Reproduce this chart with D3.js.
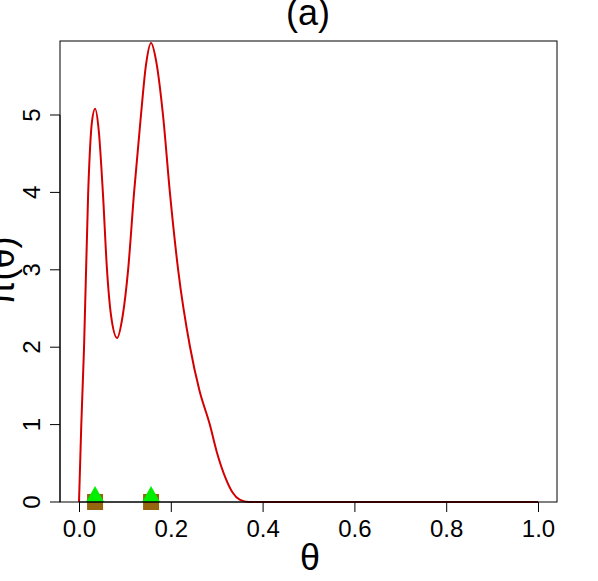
<!DOCTYPE html><html><head><script src="https://d3js.org/d3.v7.min.js"></script>
<style>body{margin:0;background:#fff}text{font-family:"Liberation Sans",Arial,sans-serif}</style></head><body>
<script>
const thetas=[0,0.005,0.011,0.02,0.028,0.035,0.043,0.052,0.061,0.07,0.083,0.095,0.107,0.12,0.135,0.146,0.157,0.168,0.183,0.198,0.216,0.242,0.262,0.285,0.30,0.32,0.335,0.35,0.37,0.6,0.8,1.0];
const density=[0,1,2,4,4.9,5.08,4.8,4,3,2.4,2.12,2.4,3,4,5,5.65,5.93,5.7,5,4,3,2,1.45,1,0.65,0.3,0.12,0.03,0,0,0,0];
const modes=[0.035,0.157];
const xTicks=[0,0.2,0.4,0.6,0.8,1.0];
const yTicks=[0,1,2,3,4,5];
const W=598,H=581,L=60,R=557,T=41,B=502;
const svg=d3.select("body").append("svg").attr("width",W).attr("height",H);
const x=d3.scaleLinear().domain([-0.0414,1.0414]).range([L,R]);
const y=d3.scaleLinear().domain([0,5.956]).range([B,T]);
const line=d3.line().x((d,i)=>x(thetas[i])).y(d=>y(d)).curve(d3.curveMonotoneX);
svg.append("path").datum(density).attr("d",line).attr("fill","none").attr("stroke","#d40000").attr("stroke-width",2);
svg.selectAll("rect.m").data(modes).enter().append("rect").attr("x",d=>x(d)-8).attr("y",B-8).attr("width",16).attr("height",16).attr("fill","#96660f");
svg.selectAll("path.t").data(modes).enter().append("path").attr("d",d=>`M${x(d)-9},${B}L${x(d)+9},${B}L${x(d)},${B-16}Z`).attr("fill","#00ee00");
svg.append("rect").attr("x",L).attr("y",T).attr("width",R-L).attr("height",B-T).attr("fill","none").attr("stroke","#000");
const xa=svg.append("g").attr("transform",`translate(0,${B})`).call(d3.axisBottom(x).tickValues(xTicks).tickFormat(d3.format(".1f")).tickSize(10).tickSizeOuter(0));
xa.select(".domain").attr("d",`M${x(0)},0H${x(1)}`);
xa.selectAll("text").attr("font-size",24).attr("dy","0.9em").attr("fill","#000");
const ya=svg.append("g").attr("transform",`translate(${L},0)`).call(d3.axisLeft(y).tickValues(yTicks).tickFormat(d3.format("d")).tickSize(10).tickSizeOuter(0));
ya.select(".domain").attr("d",`M0,${y(0)}V${y(5)}`);
ya.selectAll(".tick").attr("transform",null);
ya.selectAll(".tick line").attr("transform",d=>`translate(0,${y(d)})`);
ya.selectAll(".tick text").attr("font-size",24).attr("fill","#000").attr("x",-20).attr("y",d=>y(d)).attr("dy",0).attr("text-anchor","middle").attr("transform",d=>`rotate(-90,-20,${y(d)})`);
svg.append("text").attr("x",308).attr("y",25).attr("text-anchor","middle").attr("font-size",36).text("(a)");
svg.append("text").attr("x",310).attr("y",570).attr("text-anchor","middle").attr("font-size",36).text("θ");
svg.append("text").attr("transform","translate(14,271) rotate(-90)").attr("text-anchor","middle").attr("font-size",36).text("π(θ)");
</script></body></html>
